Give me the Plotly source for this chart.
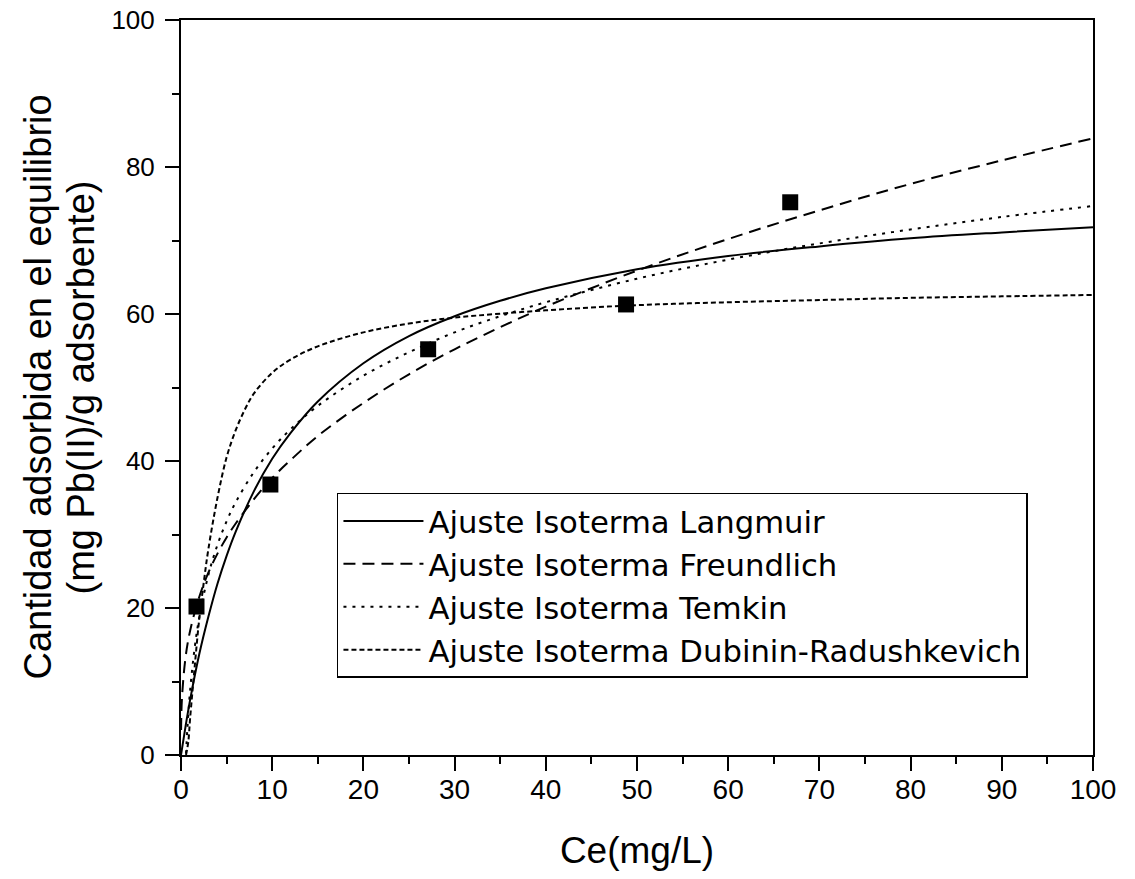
import plotly.graph_objects as go

# Experimental equilibrium data: Ce (mg/L) vs qe (mg Pb(II)/g adsorbent)
ce_exp = [1.7, 9.8, 27.1, 48.8, 66.8]
qe_exp = [20.2, 36.8, 55.2, 61.3, 75.2]

# Fitted isotherm curves (sampled points)
ce_lang = [0, 0.5, 1, 2, 3, 4, 5, 6, 8, 10, 12, 15, 20, 25, 30, 35, 40, 50, 60, 70, 80, 90, 100]
qe_lang = [0, 3.9, 7.5, 13.7, 18.8, 23.3, 27.1, 30.4, 35.9, 40.3, 43.8, 48.1, 53.3, 57.0,
           59.7, 61.8, 63.5, 66.1, 67.9, 69.2, 70.3, 71.1, 71.8]

ce_freu = [0.01, 0.1, 0.5, 1, 2, 3, 4, 5, 6, 8, 10, 12, 15, 20, 25, 30, 35, 40, 50, 60, 70, 80, 90, 100]
qe_freu = [3.4, 7.6, 13.3, 16.9, 21.5, 24.8, 27.4, 29.6, 31.5, 34.8, 37.7, 40.1, 43.4, 47.9,
           51.8, 55.2, 58.2, 61.0, 65.9, 70.2, 74.1, 77.7, 80.9, 83.9]

ce_temk = [0.55, 0.7, 1, 1.5, 2, 3, 4, 5, 6, 8, 10, 12, 15, 20, 25, 30, 35, 40, 50, 60, 70, 80, 90, 100]
qe_temk = [0.2, 3.6, 8.8, 14.6, 18.7, 24.5, 28.6, 31.8, 34.4, 38.5, 41.7, 44.3, 47.5, 51.6,
           54.8, 57.5, 59.7, 61.6, 64.8, 67.4, 69.6, 71.5, 73.2, 74.7]

ce_dr = [0.55, 0.8, 1.0, 1.5, 2.0, 2.5, 3.0, 4.0, 5.0, 6.0, 7.0, 8.0, 10, 12, 15, 20, 25, 30,
         40, 50, 60, 70, 80, 90, 100]
qe_dr = [0, 1.8, 5.0, 12, 18.5, 23.5, 28, 35, 40.5, 44.2, 47, 49.2, 52, 53.8, 55.6, 57.5, 58.7,
         59.5, 60.5, 61.2, 61.6, 61.9, 62.2, 62.4, 62.6]

x_ticks = [0, 10, 20, 30, 40, 50, 60, 70, 80, 90, 100]
y_ticks = [0, 20, 40, 60, 80, 100]

y_title_lines = ["Cantidad adsorbida en el equilibrio", "(mg Pb(II)/g adsorbente)"]

FONT = "Liberation Sans, Arial, sans-serif"
LEGEND_FONT = "DejaVu Sans, Liberation Sans, sans-serif"

fig = go.Figure()

curves = [
    ("Ajuste Isoterma Langmuir", ce_lang, qe_lang, "solid"),
    ("Ajuste Isoterma Freundlich", ce_freu, qe_freu, "12px,7px"),
    ("Ajuste Isoterma Temkin", ce_temk, qe_temk, "3px,6px"),
    ("Ajuste Isoterma Dubinin-Radushkevich", ce_dr, qe_dr, "5px,3px"),
]
for name, xs, ys, dash in curves:
    fig.add_trace(go.Scatter(
        x=xs, y=ys, mode="lines", name=name,
        line=dict(color="black", width=2, dash=dash, shape="spline", smoothing=1.0),
    ))

fig.add_trace(go.Scatter(
    x=ce_exp, y=qe_exp, mode="markers", showlegend=False,
    marker=dict(symbol="square", size=16, color="black"),
))

axis_common = dict(
    showline=True, linecolor="black", linewidth=2, mirror=True,
    ticks="outside", ticklen=14, tickwidth=2, tickcolor="black",
    showgrid=False, zeroline=False, automargin=False,
)

fig.update_xaxes(
    range=[0, 100], tickvals=x_ticks,
    minor=dict(dtick=5, ticks="outside", ticklen=7, tickwidth=2, tickcolor="black", showgrid=False),
    tickfont=dict(family=FONT, size=28, color="black"),
    ticklabelstandoff=-6,
    title=dict(text="Ce(mg/L)", font=dict(family=FONT, size=37, color="black"), standoff=34),
    **axis_common,
)
fig.update_yaxes(
    range=[0, 100], tickvals=y_ticks,
    minor=dict(dtick=10, ticks="outside", ticklen=7, tickwidth=2, tickcolor="black", showgrid=False),
    tickfont=dict(family=FONT, size=26, color="black"),
    ticklabelstandoff=5,
    **axis_common,
)

# Two-line y-axis title, one rotated text line each
for line_text, x_px in zip(y_title_lines, [37, 80]):
    fig.add_annotation(
        text=line_text, textangle=-90, showarrow=False,
        xref="paper", yref="paper", x=(x_px - 181) / 912, y=0.5,
        xanchor="center", yanchor="middle",
        font=dict(family=FONT, size=38, color="black"),
    )

fig.update_layout(
    width=1135, height=879,
    margin=dict(l=181, r=42, t=20, b=124),
    plot_bgcolor="white", paper_bgcolor="white",
    legend=dict(
        x=0.171, y=0.3565, xanchor="left", yanchor="top",
        bordercolor="black", borderwidth=1.5, bgcolor="white",
        font=dict(family=LEGEND_FONT, size=30.7, color="black"),
        itemwidth=80, tracegroupgap=0,
    ),
)

fig.write_html("out.html")
